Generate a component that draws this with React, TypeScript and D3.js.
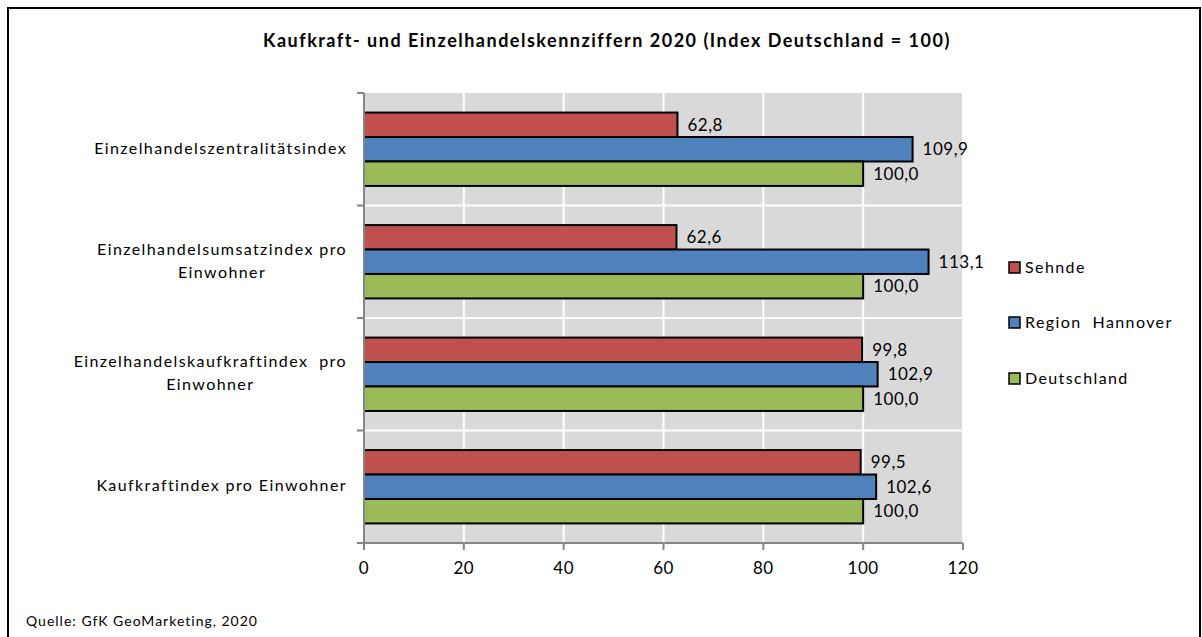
import React, { useEffect, useRef } from "react";
import * as d3 from "d3";

const categories: string[][] = [
  ["Einzelhandelszentralitätsindex"],
  ["Einzelhandelsumsatzindex pro", "Einwohner"],
  ["Einzelhandelskaufkraftindex  pro", "Einwohner"],
  ["Kaufkraftindex pro Einwohner"],
];
const seriesNames = ["Sehnde", "Region  Hannover", "Deutschland"];
const seriesColors = ["#c0504d", "#4f81bd", "#9bbb59"];
const sehnde = [62.8, 62.6, 99.8, 99.5];
const regionHannover = [109.9, 113.1, 102.9, 102.6];
const deutschland = [100.0, 100.0, 100.0, 100.0];
const xTicks = [0, 20, 40, 60, 80, 100, 120];
const title = "Kaufkraft- und Einzelhandelskennziffern 2020 (Index Deutschland = 100)";
const source = "Quelle: GfK GeoMarketing, 2020";

const FONT = "Lato, 'Open Sans', sans-serif";

export default function App() {
  const ref = useRef<SVGSVGElement>(null);
  useEffect(() => {
    const svg = d3.select(ref.current);
    svg.selectAll("*").remove();
    const W = 1202, H = 637;
    const left = 364, right = 963, top = 93, bottom = 543;
    const x = d3.scaleLinear().domain([0, 120]).range([left, right]);
    const band = d3.scaleBand<number>().domain(d3.range(categories.length)).range([top, bottom]).paddingInner(0).paddingOuter(0);
    const inner = d3.scaleBand<number>().domain([0, 1, 2]).range([0, band.bandwidth()]).paddingOuter(0.8).paddingInner(0);
    const data = [sehnde, regionHannover, deutschland];

    svg.append("rect").attr("width", W).attr("height", H).attr("fill", "#fff");
    // outer border
    svg.append("path").attr("d", `M8,${H + 5}V8H1200V${H + 5}`).attr("fill", "none").attr("stroke", "#000").attr("stroke-width", 2);

    // title
    svg.append("text").attr("x", 607).attr("y", 47).attr("text-anchor", "middle")
      .attr("font-family", FONT).attr("font-weight", "bold").attr("font-size", 18).attr("letter-spacing", 1.5)
      .attr("fill", "#000").text(title);

    // plot bg
    svg.append("rect").attr("x", left).attr("y", top).attr("width", right - left).attr("height", bottom - top).attr("fill", "#d9d9d9");
    // grid
    svg.append("g").selectAll("line").data(xTicks.slice(1)).join("line")
      .attr("x1", d => x(d)).attr("x2", d => x(d)).attr("y1", top).attr("y2", bottom)
      .attr("stroke", "#fff").attr("stroke-width", 2);
    svg.append("g").selectAll("line").data(d3.range(1, categories.length)).join("line")
      .attr("x1", left).attr("x2", right).attr("y1", d => band(d)!).attr("y2", d => band(d)!)
      .attr("stroke", "#fff").attr("stroke-width", 2);

    // bars
    data.forEach((vals, s) => {
      const g = svg.append("g");
      g.selectAll("rect").data(vals).join("rect")
        .attr("x", x(0)).attr("y", (d, i) => band(i)! + inner(s)!)
        .attr("width", d => x(d) - x(0)).attr("height", inner.bandwidth())
        .attr("fill", seriesColors[s]).attr("stroke", "#000").attr("stroke-width", 2);
      g.selectAll("text").data(vals).join("text")
        .attr("x", d => x(d) + 10).attr("y", (d, i) => band(i)! + inner(s)! + inner.bandwidth() / 2)
        .attr("dy", "0.36em").attr("font-family", FONT).attr("font-size", 17).attr("letter-spacing", 0.5).attr("fill", "#000")
        .text(d => d3.format(".1f")(d).replace(".", ","));
    });

    // y axis
    svg.append("line").attr("x1", left).attr("x2", left).attr("y1", top).attr("y2", bottom).attr("stroke", "#868686").attr("stroke-width", 2);
    svg.append("g").selectAll("line").data(d3.range(0, categories.length + 1)).join("line")
      .attr("x1", left - 7).attr("x2", left).attr("y1", d => top + d * band.step()).attr("y2", d => top + d * band.step())
      .attr("stroke", "#868686").attr("stroke-width", 2);
    // x axis
    svg.append("line").attr("x1", left - 7).attr("x2", right).attr("y1", bottom).attr("y2", bottom).attr("stroke", "#868686").attr("stroke-width", 2);
    svg.append("g").selectAll("line").data(xTicks).join("line")
      .attr("x1", d => x(d)).attr("x2", d => x(d)).attr("y1", bottom).attr("y2", bottom + 7)
      .attr("stroke", "#868686").attr("stroke-width", 2);
    svg.append("g").selectAll("text").data(xTicks).join("text")
      .attr("x", d => x(d)).attr("y", 574).attr("text-anchor", "middle")
      .attr("font-family", FONT).attr("font-size", 17).attr("letter-spacing", 0.5).attr("fill", "#000").text(d => String(d));

    // category labels
    const labelRight = 347;
    categories.forEach((lines, i) => {
      const g = svg.append("g");
      const cy = band(i)! + band.bandwidth() / 2 - 1.5;
      const lh = 23;
      const texts = lines.map((ln, k) =>
        g.append("text").attr("y", cy + (k - (lines.length - 1) / 2) * lh).attr("dy", "0.36em")
          .attr("text-anchor", "middle").attr("font-family", FONT).attr("font-size", 16).attr("letter-spacing", 1.4)
          .attr("fill", "#000").style("white-space", "pre").text(ln)
      );
      const maxW = d3.max(texts, t => (t.node() as SVGTextElement).getComputedTextLength()) || 0;
      texts.forEach(t => t.attr("x", labelRight - maxW / 2));
    });

    // legend
    const ly = [267.5, 322.5, 378.5];
    seriesNames.forEach((n, s) => {
      svg.append("rect").attr("x", 1009).attr("y", ly[s] - 5.5).attr("width", 11).attr("height", 11)
        .attr("fill", seriesColors[s]).attr("stroke", "#000").attr("stroke-width", 1.5);
      svg.append("text").attr("x", 1025).attr("y", ly[s]).attr("dy", "0.36em")
        .attr("font-family", FONT).attr("font-size", 16).attr("letter-spacing", 1.4).style("white-space", "pre")
        .attr("fill", "#000").text(n);
    });

    // source
    svg.append("text").attr("x", 26).attr("y", 626).attr("font-family", FONT).attr("font-size", 14).attr("letter-spacing", 1.0)
      .attr("fill", "#000").text(source);
  }, []);
  return <svg ref={ref} width={1202} height={637} style={{ position: "absolute", left: 0, top: 0 }} />;
}
